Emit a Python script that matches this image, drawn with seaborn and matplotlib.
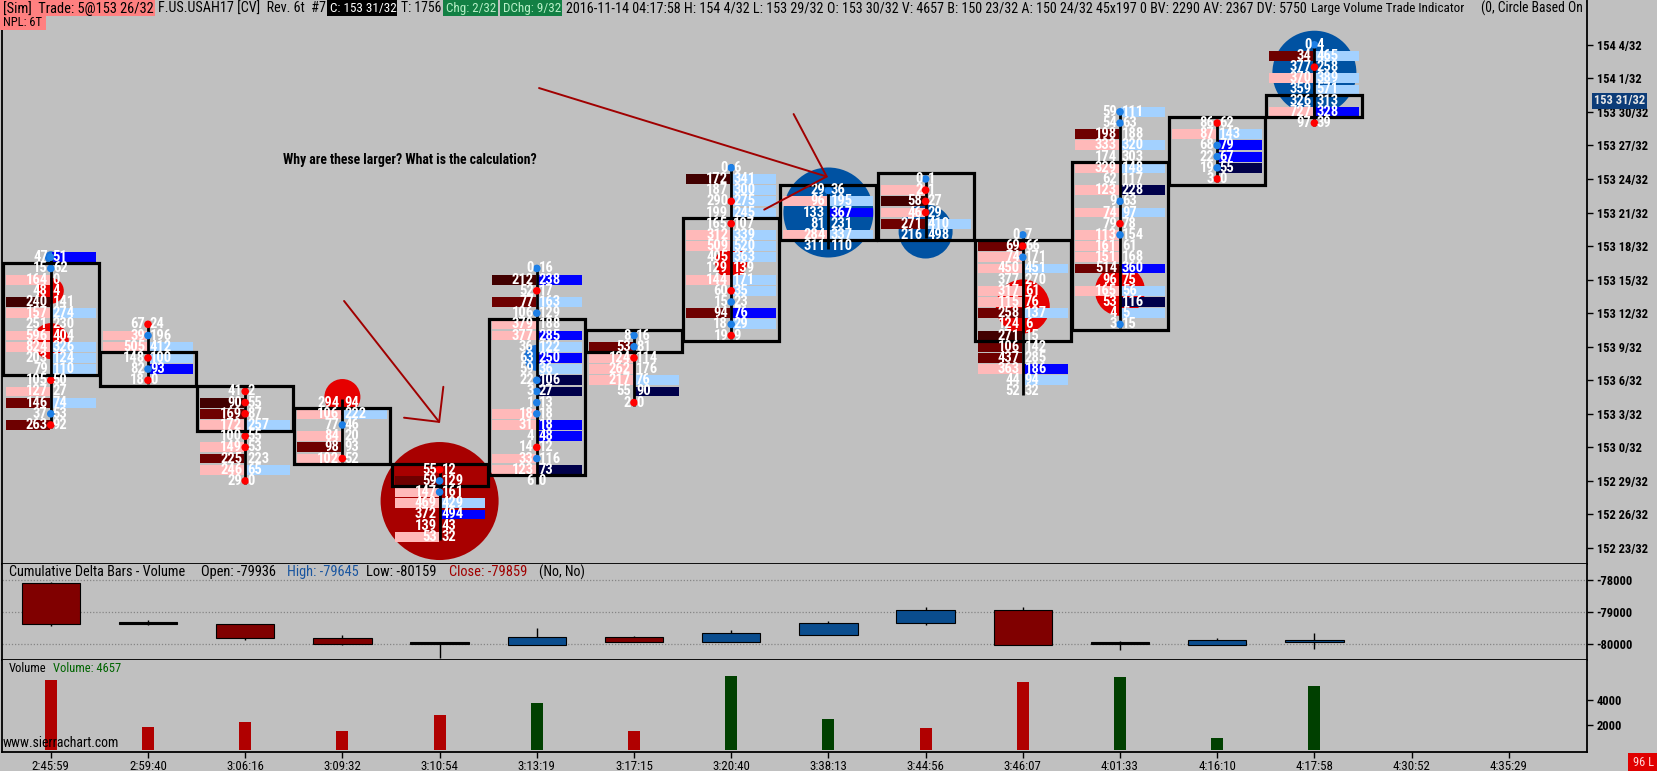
import numpy as np
import matplotlib
matplotlib.use("Agg")
import matplotlib.pyplot as plt
from matplotlib import font_manager
from matplotlib.patches import Rectangle
import seaborn as sns

# ------------------------------------------------------------------ data
times = ['2:45:59', '2:59:40', '3:06:16', '3:09:32', '3:10:54', '3:13:19', '3:17:15', '3:20:40',
         '3:38:13', '3:44:56', '3:46:07', '4:01:33', '4:16:10', '4:17:58', '4:30:52', '4:35:29']

# prices expressed in 1/32nds (e.g. 4913 = 153 17/32)
bar_top = [4913, 4907, 4901, 4900, 4894, 4912, 4906, 4921, 4919, 4920, 4915, 4926, 4925, 4932]
box_hi = [4912, 4904, 4901, 4899, 4894, 4907, 4906, 4916, 4919, 4920, 4914, 4921, 4925, 4927]
box_lo = [4903, 4902, 4898, 4895, 4893, 4894, 4905, 4906, 4915, 4915, 4906, 4907, 4920, 4926]

bids = [
    [47, 15, 164, 48, 240, 157, 251, 596, 824, 203, 79, 105, 127, 146, 37, 263],
    [67, 39, 505, 148, 82, 18],
    [41, 90, 169, 172, 100, 149, 225, 246, 29],
    [294, 106, 77, 84, 98, 102],
    [55, 59, 147, 469, 372, 139, 53],
    [0, 212, 52, 77, 106, 379, 377, 36, 63, 59, 22, 3, 1, 18, 31, 4, 14, 33, 123, 6],
    [8, 53, 124, 262, 217, 55, 2],
    [0, 172, 187, 290, 199, 165, 312, 509, 405, 129, 144, 60, 15, 94, 18, 19],
    [29, 96, 133, 81, 284, 311],
    [0, 2, 58, 46, 271, 216],
    [0, 69, 74, 450, 377, 317, 115, 258, 124, 271, 106, 437, 363, 44, 52],
    [59, 54, 198, 333, 174, 329, 62, 123, 9, 74, 79, 113, 161, 151, 514, 96, 165, 53, 4, 3],
    [86, 87, 68, 22, 19, 3],
    [0, 34, 377, 370, 359, 326, 727, 97],
]
asks = [
    [51, 62, 0, 4, 141, 274, 230, 404, 326, 124, 110, 50, 27, 74, 53, 92],
    [24, 196, 412, 100, 93, 0],
    [2, 55, 87, 257, 55, 53, 223, 65, 0],
    [94, 222, 46, 20, 93, 52],
    [12, 129, 161, 429, 494, 43, 32],
    [16, 238, 17, 163, 129, 188, 285, 122, 250, 36, 106, 27, 13, 18, 18, 48, 12, 116, 73, 0],
    [16, 81, 114, 176, 76, 90, 0],
    [6, 341, 300, 275, 245, 107, 339, 520, 363, 139, 171, 35, 23, 76, 29, 9],
    [36, 195, 367, 231, 337, 110],
    [1, 1, 27, 29, 410, 498],
    [7, 66, 171, 451, 270, 61, 76, 137, 6, 15, 142, 285, 186, 94, 32],
    [111, 63, 188, 320, 303, 148, 117, 228, 63, 97, 78, 154, 61, 168, 360, 75, 56, 116, 5, 15],
    [62, 143, 79, 67, 55, 0],
    [4, 465, 258, 389, 571, 313, 328, 39],
]
bid_shade = [
    [0, 0, 1, 0, 3, 1, 0, 1, 1, 0, 0, 0, 1, 2, 0, 2],
    [0, 1, 1, 0, 0, 0],
    [0, 3, 2, 1, 0, 1, 2, 1, 0],
    [0, 1, 0, 1, 2, 1],
    [0, 2, 1, 1, 0, 0, 1],
    [0, 3, 0, 2, 0, 1, 1, 0, 0, 0, 0, 0, 0, 1, 1, 0, 0, 1, 1, 0],
    [0, 2, 1, 1, 1, 0, 0],
    [0, 3, 0, 0, 0, 0, 1, 1, 0, 0, 1, 0, 0, 2, 0, 0],
    [0, 1, 0, 0, 1, 0],
    [0, 1, 3, 1, 2, 0],
    [0, 2, 1, 1, 0, 1, 1, 2, 0, 3, 2, 2, 1, 0, 0],
    [0, 0, 2, 1, 0, 1, 0, 1, 0, 1, 0, 1, 1, 1, 2, 0, 1, 0, 0, 0],
    [0, 1, 0, 0, 0, 0],
    [0, 2, 0, 1, 0, 0, 1, 0],
]
ask_shade = [
    [2, 0, 0, 0, 0, 1, 0, 0, 1, 1, 1, 0, 0, 1, 0, 0],
    [0, 0, 1, 1, 2, 0],
    [0, 0, 0, 1, 0, 0, 0, 1, 0],
    [0, 1, 0, 0, 0, 0],
    [0, 0, 0, 1, 2, 0, 0],
    [0, 2, 0, 1, 0, 0, 2, 1, 2, 1, 3, 3, 0, 0, 2, 2, 0, 0, 3, 0],
    [0, 0, 0, 0, 1, 3, 0],
    [0, 1, 1, 1, 1, 0, 1, 1, 1, 0, 1, 1, 0, 2, 1, 0],
    [0, 1, 2, 0, 1, 0],
    [0, 0, 0, 0, 1, 0],
    [0, 0, 0, 1, 0, 0, 0, 1, 0, 0, 0, 0, 2, 1, 0],
    [1, 0, 0, 1, 0, 1, 0, 3, 0, 1, 0, 0, 0, 0, 2, 0, 1, 3, 1, 0],
    [0, 1, 2, 2, 3, 0],
    [0, 1, 0, 1, 1, 0, 2, 0],
]
# small trade markers on the bar centre line: r = red, b = blue, . = none
row_dots = ['bb.........r..br', 'rb.rbr', 'rrr.rr..r', '..b..r', 'rbb....',
            'b.r.b.....bbbb..rb..', 'bbr...r', 'b..r.r.....rb.br', 'b.....', 'brrr..',
            'brb............', 'bb......b.rb.......b', 'r.bbbr', 'b.r....r']

# large volume trade indicator circles
circ_bar = [0, 0, 0, 3, 4, 5, 7, 8, 9, 10, 11, 13]
circ_price = [4913, 4910, 4905.5, 4900.5, 4891.2, 4904, 4912.5, 4917, 4915.3, 4908.6, 4910, 4929.5]
circ_radius = [6, 13, 18, 18, 59, 13, 16, 45, 27, 27, 25, 42]
circ_kind = ['b', 'r', 'r', 'r', 'R', 'b', 'r', 'B', 'B', 'r', 'r', 'B']

# cumulative delta bars
d_open = [-78075, -79350, -79375, -79800, -79980, -80020, -79760, -79930, -79700, -79335, -78930, -79990, -80020, -79936]
d_high = [-78045, -79240, -79370, -79700, -79970, -79500, -79750, -79550, -79270, -78840, -78840, -79900, -79800, -79645]
d_low = [-79420, -79390, -79850, -80020, -80430, -80030, -79935, -79935, -79700, -79400, -80025, -80190, -80025, -80159]
d_close = [-79355, -79370, -79790, -79990, -80000, -79760, -79930, -79660, -79335, -78930, -80020, -80000, -79865, -79859]

# volume
volume = [5556, 1857, 2198, 1524, 2778, 3706, 1524, 5889, 2444, 1778, 5397, 5802, 937, 5048]
vol_dir = ['down', 'down', 'down', 'down', 'down', 'up', 'down', 'up', 'up', 'down', 'down', 'up', 'up', 'up']

# ------------------------------------------------------------------ style
W, H = 1658, 771
BG = '#c0c0c0'
sns.set_theme(style='white')

ttf = font_manager.fontManager.ttflist
names = {f.name for f in ttf}
NARROW, STRETCH, K = None, 'normal', 0.78
for cand in ['Liberation Sans Narrow', 'Roboto Condensed', 'Open Sans Condensed', 'Noto Sans Condensed']:
    if cand in names:
        NARROW, K = cand, 1.0
        break
if NARROW is None and any(f.name == 'DejaVu Sans' and str(f.stretch) == 'condensed' for f in ttf):
    NARROW, STRETCH, K = 'DejaVu Sans', 'condensed', 0.9
FAM = [NARROW, 'DejaVu Sans'] if NARROW else ['DejaVu Sans']
plt.rcParams['font.family'] = FAM
plt.rcParams['font.stretch'] = STRETCH

bid_col = {1: '#ffb9b9', 2: '#6e0000', 3: '#420000'}
ask_col = {1: '#a3d1ff', 2: '#0000ff', 3: '#00004a'}
circ_col = {'r': '#e60000', 'R': '#a80000', 'b': '#1a72d6', 'B': '#0052a2'}
dot_col = {'r': '#ff0000', 'b': '#1e80e6'}

fig = plt.figure(figsize=(W / 100, H / 100), dpi=100, facecolor=BG)
XL = ((2 - 50.8) / 97.2, (1587 - 50.8) / 97.2)
PX = 1 / 97.2          # one pixel in bar-index units

ax = fig.add_axes([2 / W, (H - 564) / H, 1585 / W, 564 / H], facecolor=BG)
axd = fig.add_axes([2 / W, (H - 660) / H, 1585 / W, 96 / H], facecolor=BG)
axv = fig.add_axes([2 / W, (H - 752) / H, 1585 / W, 92 / H], facecolor=BG)

for a in (ax, axd, axv):
    a.set_xlim(*XL)
    for s in ('left', 'right', 'bottom'):
        a.spines[s].set_visible(True)
        a.spines[s].set_color('black')
        a.spines[s].set_linewidth(1.3)
    a.spines['top'].set_visible(False)
    a.yaxis.tick_right()
    a.tick_params(axis='y', which='both', right=True, left=False, direction='out', length=4,
                  width=1, pad=3, colors='black', labelsize=9 * K)
    a.grid(False)

# ------------------------------------------------------------------ main footprint panel
Y_TOP = 4887 + 548 / 11.183
Y_BOT = 4887 - 16 / 11.183
ax.set_ylim(Y_BOT, Y_TOP)
yt = np.arange(4887, 4933, 3)
ax.set_yticks(yt)
ax.set_yticklabels([f"{p // 32} {p % 32}/32" for p in yt], fontweight='bold')
ax.tick_params(axis='x', bottom=False, labelbottom=False)

# circles
ax.scatter(circ_bar, circ_price, s=[(2 * r * 0.72) ** 2 for r in circ_radius],
           c=[circ_col[k] for k in circ_kind], linewidths=0, zorder=1)

CW = 44 * PX
NS = 10.5 * K
for i in range(len(bar_top)):
    prices = bar_top[i] - np.arange(len(bids[i]))
    bs = np.array(bid_shade[i])
    as_ = np.array(ask_shade[i])
    mb = bs > 0
    ma = as_ > 0
    ax.barh(prices[mb], width=CW, left=i - CW - 1 * PX, height=0.88,
            color=[bid_col[v] for v in bs[mb]], linewidth=0, zorder=2)
    ax.barh(prices[ma], width=CW, left=i + 1 * PX, height=0.88,
            color=[ask_col[v] for v in as_[ma]], linewidth=0, zorder=2)
    ax.vlines(i, prices[-1] - 0.3, prices[0] + 0.3, color='black', lw=2, zorder=3)
    dp = [p for p, d in zip(prices, row_dots[i]) if d != '.']
    dc = [dot_col[d] for d in row_dots[i] if d != '.']
    if dp:
        ax.scatter([i] * len(dp), dp, s=30, c=dc, linewidths=0, zorder=3.5)
    ax.bar(i, box_hi[i] - box_lo[i] + 1, bottom=box_lo[i] - 0.5, width=96 * PX, fill=False,
           edgecolor='black', linewidth=2.3, zorder=4)
    for p, b, a_ in zip(prices, bids[i], asks[i]):
        ax.text(i - 3 * PX, p, str(b), ha='right', va='center', color='white',
                fontsize=NS, fontweight='bold', zorder=5)
        ax.text(i + 2 * PX, p, str(a_), ha='left', va='center', color='white',
                fontsize=NS, fontweight='bold', zorder=5)

# current price marker on the axis
ax.annotate('153 31/32', xy=(1.0, 4927), xycoords=('axes fraction', 'data'),
            xytext=(5, 0), textcoords='offset points', ha='left', va='center',
            fontsize=9 * K, fontweight='bold', color='#e8e8e8', zorder=10,
            bbox=dict(boxstyle='square,pad=0.12', fc='#0c3c78', ec='none'), annotation_clip=False)

# arrows of the user annotation
ax.annotate('', xy=(4.004, 4898.18), xytext=(3.017, 4909.09),
            arrowprops=dict(arrowstyle='->,head_length=1.8,head_width=1.8', color='#a00000',
                            lw=1.4, shrinkA=0, shrinkB=0, mutation_scale=10), zorder=6)
ax.annotate('', xy=(7.996, 4920.18), xytext=(5.023, 4928.13),
            arrowprops=dict(arrowstyle='->,head_length=3.6,head_width=3.6', color='#a00000',
                            lw=1.4, shrinkA=0, shrinkB=0, mutation_scale=10), zorder=6)

# ------------------------------------------------------------------ cumulative delta panel
axd.set_ylim(-78000 - (660 - 580.3) / 32 * 1000, -78000 + (580.3 - 564) / 32 * 1000)
axd.set_yticks([-78000, -79000, -80000])
axd.set_yticklabels(['-78000', '-79000', '-80000'], fontweight='bold')
axd.tick_params(axis='x', bottom=False, labelbottom=False)
for v in (-78000, -79000, -80000):
    axd.axhline(v, color='#858585', lw=0.9, ls=(0, (1, 1.5)), zorder=0)
xs = np.arange(len(d_open))
o = np.array(d_open); c = np.array(d_close)
dcol = ['#800000' if cc < oo - 40 else ('#0a4d8e' if cc > oo + 40 else 'black') for oo, cc in zip(o, c)]
axd.vlines(xs, d_low, d_high, color='black', lw=1, zorder=1)
axd.bar(xs, np.maximum(np.abs(c - o), 70), bottom=np.minimum(o, c), width=0.6, color=dcol,
        edgecolor='black', linewidth=0.8, zorder=2)

# ------------------------------------------------------------------ volume panel
sns.barplot(x=xs, y=volume, hue=vol_dir, palette={'down': '#b00000', 'up': '#004000'},
            native_scale=True, width=0.125, dodge=False, legend=False, errorbar=None,
            saturation=1, linewidth=0, ax=axv, zorder=2)
axv.set_xlim(*XL)
axv.set_ylim(-159, 7143)
axv.set_yticks([2000, 4000])
axv.set_yticklabels(['2000', '4000'], fontweight='bold')
axv.set_xticks(np.arange(len(times)))
axv.set_xticklabels(times)
axv.tick_params(axis='x', bottom=True, direction='out', length=4, width=1, pad=2,
                labelsize=9.3 * K, colors='black')
axv.set_xlabel('')
axv.set_ylabel('')
for a in (ax, axd, axv):
    a.yaxis.tick_right()


# ------------------------------------------------------------------ texts in pixel positions
renderer = fig.canvas.get_renderer()


def ftext(x, y, s, clip=True, target=None, bg=None, lo=0.9, hi=1.25, **kw):
    t = fig.text(x / W, 1 - y / H, s, va='center', ha='left', zorder=4, **kw)
    if clip:
        t.set_clip_box(ax.bbox)
        t.set_clip_on(True)
    if target:
        fs = t.get_fontsize()
        w = t.get_window_extent(renderer).width
        if w > 0:
            t.set_fontsize(fs * min(max(target / w, lo), hi))
    if bg is not None:
        x0, x1, y0, y1, col = bg
        fig.add_artist(Rectangle((x0 / W, 1 - y1 / H), (x1 - x0) / W, (y1 - y0) / H,
                                 transform=fig.transFigure, fc=col, ec='none', zorder=3))
    return t


HS = 10 * K
ftext(3, 8.5, '[Sim]  Trade: 5@153 26/32', fontsize=HS, color='black', target=150,
      bg=(0, 155, 0, 16, '#ff8080'))
ftext(158, 8.5, 'F.US.USAH17 [CV]  Rev. 6t  #7', fontsize=HS, color='black', target=166)
ftext(330, 8.5, 'C: 153 31/32', fontsize=HS, color='white', target=66,
      bg=(327, 397, 0, 16, 'black'))
ftext(401, 8.5, 'T: 1756', fontsize=HS, color='black', target=40)
ftext(446, 8.5, 'Chg: 2/32', fontsize=HS, color='#b8f0c8', target=50,
      bg=(443, 498, 0, 16, '#128044'))
ftext(503, 8.5, 'DChg: 9/32', fontsize=HS, color='#b8f0c8', target=58,
      bg=(500, 562, 0, 16, '#128044'))
ftext(566, 8.5, '2016-11-14 04:17:58 H: 154 4/32 L: 153 29/32', fontsize=HS, color='black', target=255)
ftext(827, 8.5, 'O: 153 30/32 V: 4657 B: 150 23/32 A: 150 24/32 45x197 0 BV: 2290 AV: 2367 DV: 5750',
      fontsize=HS, color='black', target=474)
ftext(1311, 8.5, 'Large Volume Trade Indicator', fontsize=HS, color='black', target=152)
ftext(1481, 8.5, '(0, Circle Based On Volume)', fontsize=HS, color='black', target=150)
ftext(3, 23, 'NPL: 6T', fontsize=HS, color='black', target=39,
      bg=(0, 46, 16, 30, '#ff8080'))

ftext(283, 160, 'Why are these larger? What is the calculation?', fontsize=9.5 * K,
      fontweight='bold', color='black', target=254)

ftext(9, 572, 'Cumulative Delta Bars - Volume', clip=False, fontsize=HS, color='black', target=176)
ftext(201, 572, 'Open: -79936', clip=False, fontsize=HS, color='black', target=75)
ftext(287, 572, 'High: -79645', clip=False, fontsize=HS, color='#1a56a0', target=72)
ftext(366, 572, 'Low: -80159', clip=False, fontsize=HS, color='black', target=70)
ftext(449, 572, 'Close: -79859', clip=False, fontsize=HS, color='#a00000', target=78)
ftext(539, 572, '(No, No)', clip=False, fontsize=HS, color='black', target=46)

ftext(9, 668, 'Volume', clip=False, fontsize=HS, color='black', target=37)
ftext(53, 668, 'Volume: 4657', clip=False, fontsize=HS, color='#006400', target=63)
ftext(3, 743, 'www.sierrachart.com', clip=False, fontsize=8.5 * K, color='black', target=116)
ftext(1633, 762, '96 L', clip=False, fontsize=9 * K, color='#ffd8d8',
      bg=(1628, 1658, 753, 771, '#e00000'))

fig.savefig('out.png', dpi=100, facecolor=BG)
